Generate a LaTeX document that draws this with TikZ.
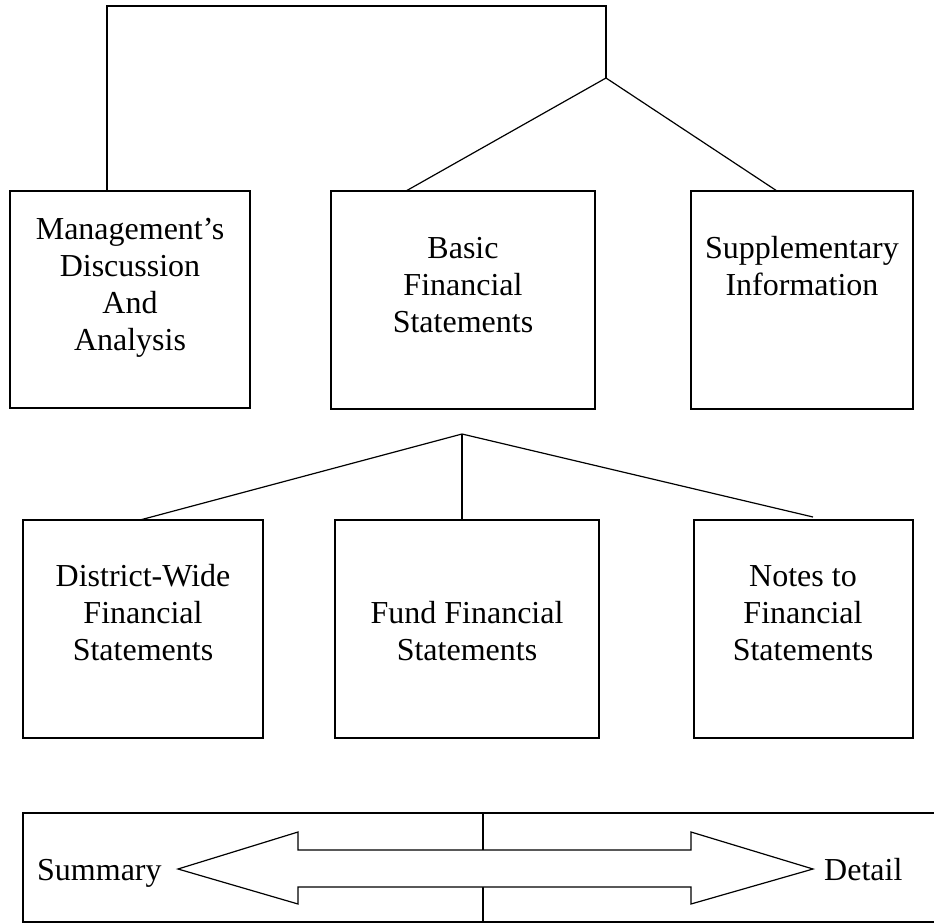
\documentclass[tikz,border=0pt]{standalone}
\usepackage{fontspec}
\setmainfont{Liberation Serif}
\begin{document}
\begin{tikzpicture}[x=1pt,y=-1pt,
  box/.style={draw,line width=1.5pt,rectangle,inner sep=0pt},
  link/.style={line width=1.2pt},
  lbl/.style={font=\fontsize{32}{37}\selectfont,align=center,anchor=base,inner sep=0pt}]
\useasboundingbox (0,0) rectangle (934,923);
\clip (0,0) rectangle (934,923);
% boxes
\node[box,minimum width=240pt,minimum height=217pt] (mda) at (130,299.5) {};
\node[box,minimum width=264pt,minimum height=218pt] (bfs) at (463,300) {};
\node[box,minimum width=222pt,minimum height=218pt] (sup) at (802,300) {};
\node[box,minimum width=240pt,minimum height=218pt] (dw) at (143,629) {};
\node[box,minimum width=264pt,minimum height=218pt] (fund) at (467,629) {};
\node[box,minimum width=219pt,minimum height=218pt] (notes) at (803.5,629) {};
% texts (base anchor = baseline of last line)
\node[lbl] (tmda) at (130,350) {Management’s\\Discussion\\And\\Analysis};
\node[lbl] (tbfs) at (463,332) {Basic\\Financial\\Statements};
\node[lbl] (tsup) at (802,295) {Supplementary\\Information};
\node[lbl] (tdw) at (143,660) {District-Wide\\Financial\\Statements};
\node[lbl] (tfund) at (467,660) {Fund Financial\\Statements};
\node[lbl] (tnotes) at (803,660) {Notes to\\Financial\\Statements};
% connector coordinates
\coordinate (tl) at (107,6);
\coordinate (tr) at (606,6);
\coordinate (j1) at (606,78);
\coordinate (mdaIn) at (107,191);
\coordinate (bfsIn) at (406,191);
\coordinate (supIn) at (777,191);
\coordinate (j2) at (462,434);
\coordinate (dwIn) at (140,520);
\coordinate (fundIn) at (462,520);
\coordinate (notesIn) at (813,517);
\draw[link] (mdaIn) -- (tl) -- (tr) -- (j1);
\draw[link] (bfsIn) -- (j1) -- (supIn);
\draw[link] (dwIn) -- (j2) -- (notesIn);
\draw[link] (j2) -- (fundIn);
% bottom scale
\draw[box] (23,813) rectangle (960,922);
\coordinate (dt) at (483,813);
\coordinate (db) at (483,922);
\draw[link] (dt) -- (db);
\draw[link,fill=white] (178,869) -- (298,832) -- (298,850) -- (691,850) -- (691,832)
  -- (813,869) -- (691,904) -- (691,887) -- (298,887) -- (298,904) -- cycle;
\node[font=\fontsize{32}{37}\selectfont,anchor=base west,inner sep=0pt] (sum) at (37,880) {Summary};
\node[font=\fontsize{32}{37}\selectfont,anchor=base west,inner sep=0pt] (det) at (824,880) {Detail};
\end{tikzpicture}
\end{document}
